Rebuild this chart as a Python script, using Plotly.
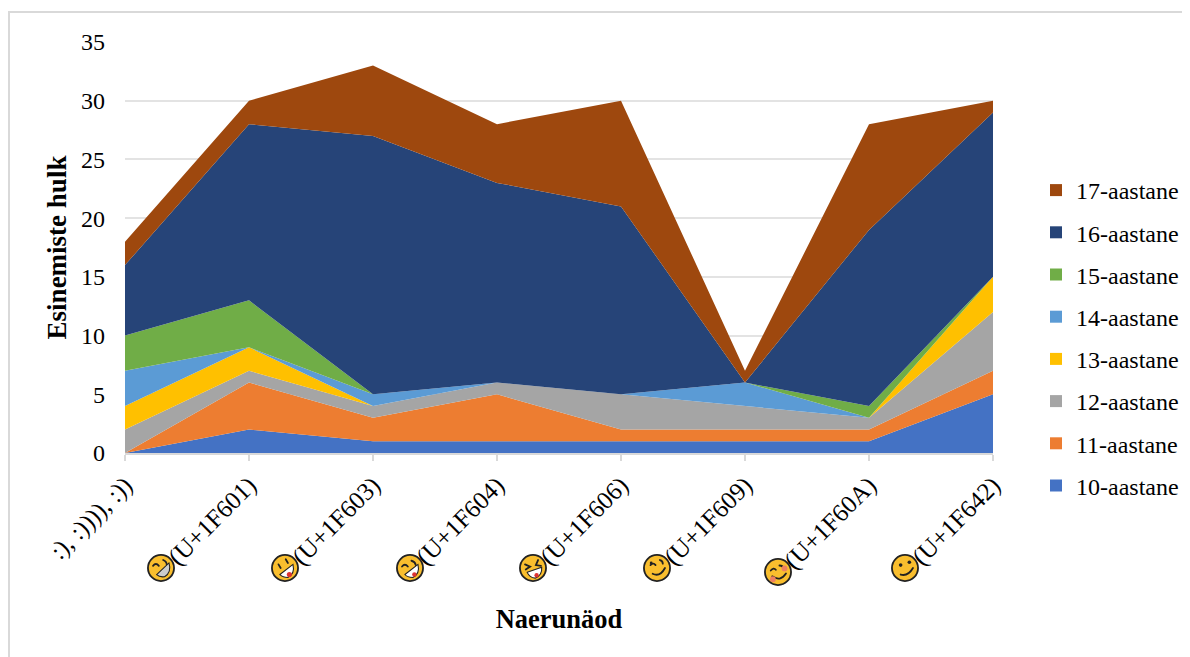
import plotly.graph_objects as go
from urllib.parse import quote

categories = [":), :)))), :))", "(U+1F601)", "(U+1F603)", "(U+1F604)", "(U+1F606)", "(U+1F609)", "(U+1F60A)", "(U+1F642)"]
names = ["10-aastane", "11-aastane", "12-aastane", "13-aastane", "14-aastane", "15-aastane", "16-aastane", "17-aastane"]
colors = ["#4472C4", "#ED7D31", "#A5A5A5", "#FFC000", "#5B9BD5", "#70AD47", "#264478", "#9E480E"]
age10 = [0, 2, 1, 1, 1, 1, 1, 5]
age11 = [0, 4, 2, 4, 1, 1, 1, 2]
age12 = [2, 1, 1, 1, 3, 2, 1, 5]
age13 = [2, 2, 0, 0, 0, 0, 0, 3]
age14 = [3, 0, 1, 0, 0, 2, 0, 0]
age15 = [3, 4, 0, 0, 0, 0, 1, 0]
age16 = [6, 15, 22, 17, 16, 0, 15, 14]
age17 = [2, 2, 6, 5, 9, 1, 9, 1]
series = [age10, age11, age12, age13, age14, age15, age16, age17]
yticks = [0, 5, 10, 15, 20, 25, 30, 35]

FONT = "Liberation Serif"
OFF = 8  # page body margin
W, H = 1240, 649
L, R, T, B = 125 - OFF, 993 - OFF, 42 - OFF, 453 - OFF
PW, PH = R - L, B - T

fig = go.Figure()
for n, c, v in zip(names, colors, series):
    fig.add_trace(go.Scatter(x=categories, y=v, name=n, stackgroup="one", mode="lines",
                             line=dict(width=0, color=c), fillcolor=c, showlegend=False,
                             hoverinfo="x+y+name"))
for n, c in reversed(list(zip(names, colors))):
    fig.add_trace(go.Scatter(x=[categories[0]], y=[None], name=n, mode="markers", legendgroup=n,
                             marker=dict(symbol="square", size=12, color=c), showlegend=True))

def face(features):
    svg = ('<svg xmlns="http://www.w3.org/2000/svg" width="40" height="40" viewBox="0 0 40 40">'
           '<circle cx="20" cy="20" r="18" fill="#F9BE2E" stroke="#222" stroke-width="2.5"/>' + features + '</svg>')
    return "data:image/svg+xml," + quote(svg)

S = 'fill="none" stroke="#222" stroke-width="2.5" stroke-linecap="round"'
faces = {
    1: f'<path d="M9 17q4-5 8 0M23 9q5 2 5 7" {S}/><path d="M14 29L31 13Q35 26 25 32Q18 33 14 29Z" fill="#ccc" stroke="#222" stroke-width="1.5"/>',
    2: f'<path d="M11 15l3 5M21 8l3 5" {S}/><path d="M13 29L31 15Q34 28 24 33Q17 33 13 29Z" fill="#fff" stroke="#222" stroke-width="1.5"/><circle cx="26" cy="29" r="3.5" fill="#D33"/>',
    3: f'<path d="M9 18q4-5 8 0M22 10q5 1 6 6" {S}/><path d="M13 29L31 15Q34 28 24 33Q16 33 13 29Z" fill="#fff" stroke="#222" stroke-width="1.5"/><circle cx="26" cy="29" r="3" fill="#D33"/>',
    4: f'<path d="M9 15l7 3-6 4M27 9l-3 7 7 1" {S}/><path d="M12 26L32 19Q33 30 23 34Q15 33 12 26Z" fill="#fff" stroke="#222" stroke-width="1.5"/><circle cx="25" cy="30" r="3" fill="#D33"/>',
    5: f'<path d="M11 16q4-4 7 0M24 9q4 1 4 5M14 28Q24 33 31 20" {S}/><circle cx="12" cy="13" r="2" fill="#222"/>',
    6: f'<path d="M10 18q4-5 7-1M22 11q5 0 6 5M12 26Q23 34 31 22" {S}/><circle cx="29" cy="15" r="4" fill="#EE8060"/><circle cx="13" cy="30" r="4" fill="#EE8060"/>',
    7: f'<circle cx="14" cy="16" r="2.5" fill="#222"/><circle cx="26" cy="12" r="2.5" fill="#222"/><path d="M14 29Q24 32 31 20" {S}/>',
}
centers = {1: (161, 568), 2: (285, 568), 3: (410, 568), 4: (533, 568), 5: (657, 568), 6: (778, 572), 7: (905, 568)}
images = []
for i, f in faces.items():
    cx, cy = centers[i]
    images.append(dict(source=face(f), xref="paper", yref="paper", xanchor="center", yanchor="middle",
                       x=(cx - OFF - L) / PW, y=(B - (cy - OFF)) / PH, sizex=29 / PW, sizey=29 / PH,
                       sizing="stretch", layer="above"))

fig.update_layout(
    width=W, height=H, autosize=False,
    margin=dict(l=L, r=W - R, t=T, b=H - B),
    paper_bgcolor="white", plot_bgcolor="white",
    font=dict(family=FONT, color="#000", size=24),
    images=images,
    showlegend=True,
    legend=dict(x=(1036 - OFF - L) / PW, xanchor="left", y=(B - (338 - OFF)) / PH, yanchor="middle",
                traceorder="grouped", tracegroupgap=8, font=dict(size=24, family=FONT),
                itemwidth=30, bgcolor="rgba(0,0,0,0)"),
    xaxis=dict(type="category", range=[0, 7], categoryorder="array", categoryarray=categories,
               tickangle=-45, ticks="outside", ticklen=6, tickcolor="#D9D9D9", tickwidth=1.5,
               showline=True, linecolor="#D9D9D9", linewidth=1.5, showgrid=False,
               tickfont=dict(size=25, family=FONT), automargin=False,
               title=dict(text="<b>Naerunäod</b>", font=dict(size=26.5, family=FONT), standoff=35)),
    yaxis=dict(range=[0, 35], tickvals=yticks, showgrid=True, gridcolor="#E3E3E3", gridwidth=1.5,
               zeroline=False, showline=False, ticks="", automargin=False, ticklabelstandoff=19,
               tickfont=dict(size=24, family=FONT),
               title=dict(text="<b>Esinemiste hulk</b>", font=dict(size=27, family=FONT), standoff=6)),
    shapes=[dict(type="rect", xref="paper", yref="paper", x0=(1 - L) / PW, x1=(1300 - L) / PW,
                 y0=(B - 800) / PH, y1=(B - 4) / PH, line=dict(color="#D9D9D9", width=2), layer="below")],
)
fig.write_html("out.html")
